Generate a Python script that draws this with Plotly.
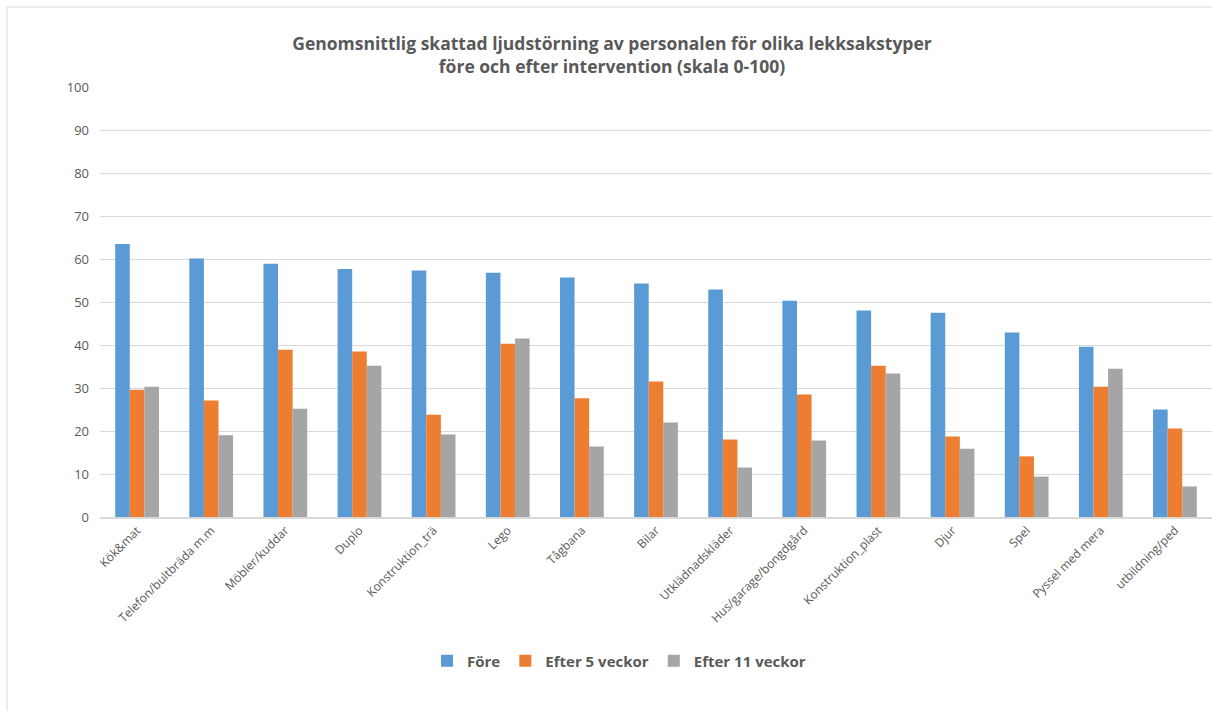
import plotly.graph_objects as go

categories = [
    "Kök&mat", "Telefon/bultbräda m.m", "Möbler/kuddar", "Duplo",
    "Konstruktion_trä", "Lego", "Tågbana", "Bilar", "Utklädnadskläder",
    "Hus/garage/bongdgård", "Konstruktion_plast", "Djur", "Spel",
    "Pyssel med mera", "utbildning/ped",
]
fore = [63.5, 60.1, 58.9, 57.7, 57.3, 56.8, 55.7, 54.3, 52.9, 50.3, 48.0, 47.5, 42.9, 39.6, 25.0]
efter_5 = [29.6, 27.1, 38.9, 38.5, 23.8, 40.3, 27.6, 31.5, 18.0, 28.5, 35.2, 18.7, 14.1, 30.3, 20.6]
efter_11 = [30.3, 19.0, 25.2, 35.2, 19.2, 41.5, 16.4, 22.0, 11.5, 17.8, 33.4, 15.9, 9.4, 34.5, 7.1]

series_names = ["Före", "Efter 5 veckor", "Efter 11 veckor"]
colors = ["#5B9BD5", "#ED7D31", "#A5A5A5"]

W, H = 1212, 711
L, R, T, B = 100, 0, 87, 194
FONT = "Open Sans"
TXT = "#595959"

fig = go.Figure()
for name, vals, col in zip(series_names, [fore, efter_5, efter_11], colors):
    fig.add_trace(go.Bar(x=categories, y=vals, name=name, marker_color=col,
                         marker_line_width=0))

fig.update_layout(
    width=W, height=H,
    margin=dict(l=L, r=R, t=T, b=B, autoexpand=False),
    paper_bgcolor="white", plot_bgcolor="white",
    barmode="group", bargap=0.41, bargroupgap=0,
    font=dict(family=FONT, color=TXT, size=12),
    title=dict(
        text="<b>Genomsnittlig skattad ljudstörning av personalen för olika lekksakstyper"
             "<br>före och efter intervention (skala 0-100)</b>",
        x=612 / W, xref="container", xanchor="center",
        y=1 - 50 / H, yref="container", yanchor="middle",
        font=dict(family=FONT, size=17.5, color=TXT),
    ),
    xaxis=dict(tickangle=-45, tickfont=dict(size=12, color=TXT),
               showline=True, linecolor="#D9D9D9", linewidth=1.5,
               ticks="", showgrid=False),
    yaxis=dict(range=[0, 100], dtick=10, tickfont=dict(size=13, color=TXT),
               gridcolor="#D9D9D9", gridwidth=1.2, zeroline=False,
               showline=False, ticks="", ticklen=0, ticklabelstandoff=10),
    legend=dict(orientation="h", x=619 / W, xanchor="center",
                xref="container", y=1 - 661 / H, yref="container", yanchor="middle",
                font=dict(family=FONT, size=15, color=TXT, weight="bold"),
                itemwidth=30, traceorder="normal"),
    shapes=[dict(type="rect", xref="paper", yref="paper",
                 x0=(7 - L) / (W - L - R), x1=1.05,
                 y0=-(B + 20) / (H - T - B), y1=1 + (T - 7) / (H - T - B),
                 line=dict(color="#D9D9D9", width=1), fillcolor="rgba(0,0,0,0)",
                 layer="below")],
)

fig.write_html("out.html")
